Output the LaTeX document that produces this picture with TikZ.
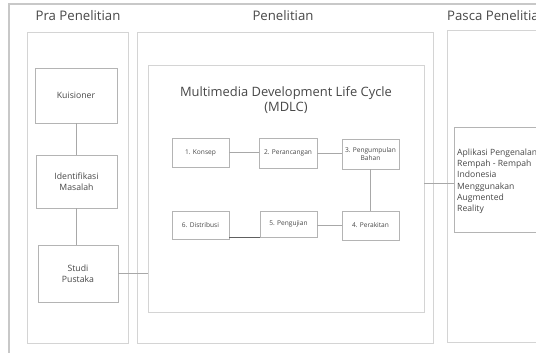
\documentclass[tikz,border=0pt]{standalone}
\usepackage{fontspec}
\setmainfont{Open Sans}
\usetikzlibrary{shadows}
\definecolor{frameC}{HTML}{C8C8C8}
\definecolor{colC}{HTML}{D4D4D4}
\definecolor{boxC}{HTML}{B4B4B4}
\definecolor{txtC}{HTML}{484848}
\definecolor{lineC}{HTML}{A8A8A8}
\definecolor{darkC}{HTML}{606060}
\tikzset{
  column/.style={draw=colC, line width=0.9pt, fill=white, inner sep=0pt, outer sep=0pt,
    drop shadow={opacity=0.12, shadow xshift=0.8pt, shadow yshift=-1pt}},
  mdlcbox/.style={draw=colC, line width=0.9pt, fill=white, inner sep=0pt, outer sep=0pt,
    drop shadow={opacity=0.12, shadow xshift=0.8pt, shadow yshift=-1pt}},
  prabox/.style={draw=boxC, line width=0.8pt, fill=white, inner sep=1pt, outer sep=0pt,
    align=center, text=txtC, font=\fontsize{8.7}{11.5}\selectfont,
    drop shadow={opacity=0.12, shadow xshift=0.8pt, shadow yshift=-1pt}},
  stepbox/.style={draw=boxC, line width=0.7pt, fill=white, inner sep=1pt, outer sep=0pt,
    align=center, text=txtC, font=\fontsize{6.6}{7.8}\selectfont,
    drop shadow={opacity=0.12, shadow xshift=0.7pt, shadow yshift=-0.8pt}},
  header/.style={text=txtC, font=\fontsize{13.2}{15}\selectfont, inner sep=0pt},
  conn/.style={draw=lineC, line width=0.7pt},
  darkconn/.style={draw=darkC, line width=0.8pt},
}
\begin{document}
\begin{tikzpicture}[x=1pt,y=-1pt]
\useasboundingbox (0,0) rectangle (536,353);
\clip (0,0) rectangle (536,353);
\fill[white] (0,0) rectangle (536,353);
% outer frame
\draw[frameC, line width=1.3pt] (9,353) -- (9,4) -- (540,4);
% headers
\node[header] (hpra) at (78,16) {Pra Penelitian};
\node[header] (hpen) at (283,16) {Penelitian};
\node[header, anchor=west] (hpas) at (447,16) {Pasca Penelitian};
% columns
\node[column, minimum width=101pt, minimum height=311pt] (cpra) at (77.5,187.5) {};
\node[column, minimum width=296pt, minimum height=311pt] (cpen) at (285,187.5) {};
\node[column, minimum width=120pt, minimum height=312pt] (cpas) at (507,186) {};
% MDLC box
\node[mdlcbox, minimum width=276pt, minimum height=247pt] (mdlc) at (286,188.5) {};
\node[text=txtC, font=\fontsize{12.9}{14.5}\selectfont, align=center, inner sep=0pt] (mtitle) at (286,100)
  {Multimedia Development Life Cycle\\(MDLC)};
% Pra boxes
\node[prabox, minimum width=82pt, minimum height=55pt] (kuis) at (76,95.5) {Kuisioner};
\node[prabox, minimum width=81pt, minimum height=53pt] (iden) at (76.5,181.5) {Identifikasi\\Masalah};
\node[prabox, minimum width=80pt, minimum height=57pt] (stud) at (78,273.5) {Studi\\Pustaka};
% MDLC steps
\node[stepbox, minimum width=57pt, minimum height=29pt] (d1) at (200.5,152.5) {1. Konsep};
\node[stepbox, minimum width=58pt, minimum height=30pt] (d2) at (288,153) {2. Perancangan};
\node[stepbox, minimum width=57pt, minimum height=30pt] (d3) at (370.5,154) {3. Pengumpulan\\Bahan};
\node[stepbox, minimum width=57pt, minimum height=29pt] (d4) at (370.5,225.5) {4. Perakitan};
\node[stepbox, minimum width=57pt, minimum height=26pt] (d5) at (288.5,224) {5. Pengujian};
\node[stepbox, minimum width=57pt, minimum height=28pt] (d6) at (200.5,225) {6. Distribusi};
% Pasca box
\node[prabox, minimum width=110pt, minimum height=105pt] (pbox) at (509,179.5) {};
\node[anchor=north west, align=left, text=txtC, font=\fontsize{8.6}{11.3}\selectfont, inner sep=0pt] (ptext) at (457,148.5)
  {Aplikasi Pengenalan\\Rempah - Rempah\\Indonesia\\Menggunakan\\Augmented\\Reality};
% connectors
\draw[conn] (kuis.south) -- (kuis.south |- iden.north);
\draw[conn] (iden.south) -- (iden.south |- stud.north);
\draw[conn] (stud.east) -- (stud.east -| mdlc.west);
\draw[conn] (d1.east) -- (d1.east -| d2.west);
\draw[conn] (d2.east) -- (d2.east -| d3.west);
\draw[conn] (d3.south) -- (d3.south |- d4.north);
\draw[conn] (d4.west) -- (d4.west -| d5.east);
\draw[darkconn] (d5.south west) -- (d5.south west -| d6.east);
\draw[conn] ([yshift=-3.5pt]mdlc.east |- pbox.west) -- ([yshift=-3.5pt]pbox.west);
\end{tikzpicture}
\end{document}
